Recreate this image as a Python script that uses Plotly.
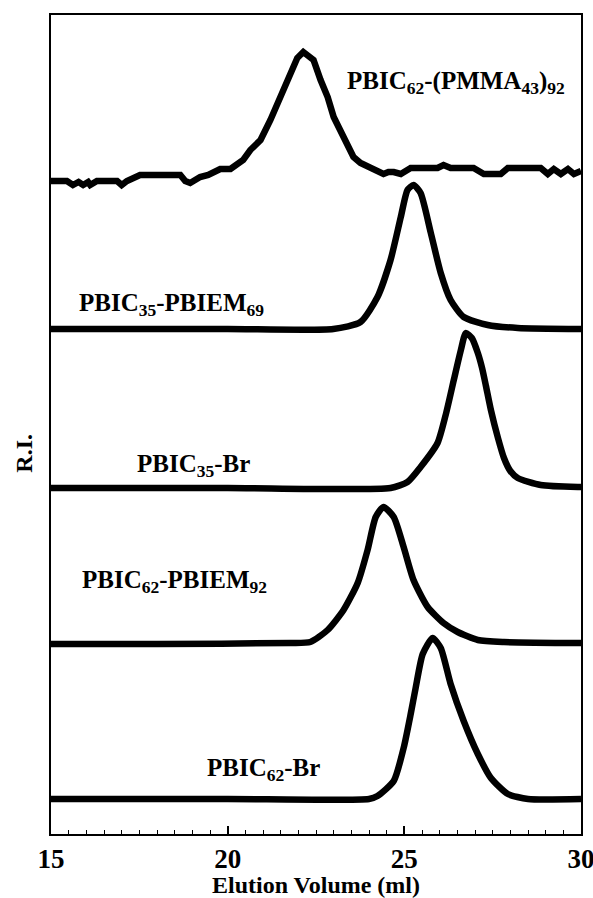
import plotly.graph_objects as go

# Elution volume (ml) and R.I. signal (arbitrary units, relative to each trace's baseline)
names = ["PBIC<sub>62</sub>-(PMMA<sub>43</sub>)<sub>92</sub>",
         "PBIC<sub>35</sub>-PBIEM<sub>69</sub>",
         "PBIC<sub>35</sub>-Br",
         "PBIC<sub>62</sub>-PBIEM<sub>92</sub>",
         "PBIC<sub>62</sub>-Br"]

# vertical offsets of each trace (stacked display)
offsets = [653, 505, 346, 190, 35]

x1 = [15.0, 15.45, 15.62, 15.78, 15.91, 16.05, 16.11, 16.3, 16.87, 17.0, 17.15, 17.3, 17.44, 17.52,
      18.66, 18.8, 18.94, 19.1, 19.22, 19.45, 19.59, 19.79, 20.08, 20.44, 20.64, 20.93, 21.21,
      21.49, 21.78, 21.97, 22.14, 22.43, 22.63, 22.83, 23.0, 23.19, 23.39, 23.56, 23.76, 24.04,
      24.41, 24.55, 24.7, 24.9, 25.18, 25.94, 26.11, 26.31, 26.96, 27.25, 27.73, 27.93, 28.86,
      29.06, 29.23, 29.43, 29.63, 29.8, 30.0]
y1 = [0, 0, -4, -1, -4, -1, -4, 0, 0, -4, 0, 2, 4, 6,
      6, 0, -2, 2, 4, 6, 8, 12, 12, 21, 31, 41, 61,
      84, 111, 123, 129, 121, 101, 84, 64, 51, 38, 24, 18, 13,
      7, 9, 9, 7, 13, 13, 16, 13, 13, 7, 7, 13, 13,
      7, 12, 7, 12, 7, 10]

x2 = [15.0, 20.0, 22.99, 23.76, 24.24, 24.61, 24.9, 25.09, 25.26, 25.46, 25.75, 26.03, 26.31,
      26.68, 27.36, 28.21, 30.0]
y2 = [0, 0, 0, 7, 32, 69, 112, 139, 144, 136, 96, 56, 29, 12, 4, 1, 0]

x3 = [15.0, 20.0, 24.61, 25.09, 25.46, 25.94, 26.17, 26.4, 26.6, 26.74, 26.91, 27.08, 27.2,
      27.31, 27.45, 27.65, 27.82, 28.0, 28.21, 28.86, 29.91, 30.0]
y3 = [0, 0, 0, 6, 21, 45, 73, 108, 138, 155, 150, 135, 120, 102, 78, 50, 30, 17, 10, 3, 1, 1]

x4 = [15.0, 18.0, 21.78, 22.34, 22.83, 23.28, 23.68, 23.96, 24.19, 24.41, 24.7, 24.98, 25.26,
      25.66, 26.11, 26.51, 27.08, 27.82, 30.0]
y4 = [0, 0, 1, 2, 14, 34, 61, 94, 127, 137, 127, 97, 64, 37, 21, 12, 4, 2, 1]

x5 = [15.0, 20.0, 24.0, 24.24, 24.7, 24.98, 25.18, 25.32, 25.52, 25.8, 26.03, 26.31, 26.68,
      27.08, 27.45, 27.93, 28.5, 30.0]
y5 = [0, 0, 0, 3, 18, 51, 85, 111, 145, 161, 151, 115, 78, 45, 21, 5, 0, 0]

xs = [x1, x2, x3, x4, x5]
ys = [y1, y2, y3, y4, y5]
shapes_kind = ["linear", "spline", "spline", "spline", "spline"]

# label anchor (elution volume, height above trace baseline)
label_x = [23.32, 15.74, 17.38, 15.82, 19.36]
label_dy = [99, 25, 23, 63, 30]

x_ticks = [15, 20, 25, 30]

FONT = "Liberation Serif"

fig = go.Figure()
for x, y, off, sh in zip(xs, ys, offsets, shapes_kind):
    fig.add_trace(go.Scatter(
        x=x, y=[v + off for v in y], mode="lines",
        line=dict(color="black", width=6.5, shape=sh, smoothing=0.6 if sh == "spline" else None),
        showlegend=False, hoverinfo="skip"))

for name, lx, dy, off in zip(names, label_x, label_dy, offsets):
    fig.add_annotation(x=lx, y=off + dy, text="<b>" + name + "</b>", showarrow=False,
                       xanchor="left", yanchor="middle",
                       font=dict(family=FONT, size=25, color="black"))

# y-axis title placed as a rotated annotation
fig.add_annotation(xref="paper", yref="paper", x=-0.05, y=0.465, text="<b>R.I.</b>",
                   textangle=-90, showarrow=False, xanchor="center", yanchor="middle",
                   font=dict(family=FONT, size=24, color="black"))

fig.update_layout(
    width=593, height=898,
    margin=dict(l=51, r=12, t=15, b=64, autoexpand=False),
    plot_bgcolor="white", paper_bgcolor="white",
    font=dict(family=FONT, color="black"),
)
fig.update_xaxes(
    range=[15, 30], tickvals=x_ticks, ticktext=[f"<b>{t}</b>" for t in x_ticks],
    ticks="inside", ticklen=8, tickwidth=1.5, tickcolor="black",
    minor=dict(dtick=0.5, ticks="inside", ticklen=4, tickwidth=1.2, tickcolor="black"),
    showgrid=False, zeroline=False, showline=True, linecolor="black", linewidth=1.5, mirror=True,
    tickfont=dict(family=FONT, size=27, color="black"), automargin=False,
    ticklabeloverflow="allow",
    title=dict(text="<b>Elution Volume (ml)</b>", font=dict(family=FONT, size=24, color="black"),
               standoff=0),
)
fig.update_yaxes(
    range=[0, 819], showticklabels=False, ticks="", showgrid=False, zeroline=False,
    showline=True, linecolor="black", linewidth=1.5, mirror=True, automargin=False,
)

fig.write_html("out.html")
